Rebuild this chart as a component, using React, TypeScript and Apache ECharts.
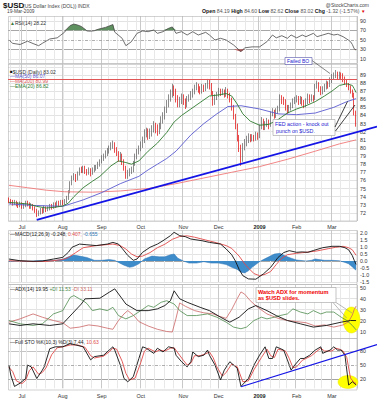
import React, { useEffect, useRef } from "react";
import * as echarts from "echarts";

const FONT = "'Liberation Sans', Arial, Helvetica, sans-serif";

// ---------- categories ----------
const FIRST_DAY = "2008-06-20";
const TRADING_DAY_COUNT = 188;
const MARKET_HOLIDAYS = ["2008-07-04", "2008-09-01", "2008-11-27", "2008-12-25", "2009-01-01", "2009-01-19", "2009-02-16"];
const MONTH_NAMES = ["Jan", "Feb", "Mar", "Apr", "May", "Jun", "Jul", "Aug", "Sep", "Oct", "Nov", "Dec"];

// ---------- tick labels ----------
const RSI_LABELS = [10, 30, 50, 70, 90];
const PRICE_LABEL_MIN = 72;
const PRICE_LABEL_MAX = 89;
const ADX_LABELS = [10, 20, 30, 40, 50];
const STO_LABELS = [20, 50, 80];

// ---------- price (daily OHLC) ----------
const opens = [
  73.6, 73.5, 73.4, 73.2, 73.3, 73.0, 72.9, 73.1, 72.8, 72.9,
  73.2, 73.1, 72.8, 72.9, 72.6, 72.3, 71.9, 72.0, 72.3, 72.2,
  72.6, 72.4, 72.5, 72.8, 72.7, 73.0, 72.9, 73.2, 73.1, 73.3,
  73.2, 73.4, 73.8, 74.6, 75.6, 76.3, 76.5, 76.2, 76.8, 77.3,
  77.2, 77.5, 77.1, 77.0, 77.3, 76.9, 77.3, 77.5, 77.6, 77.9,
  78.3, 78.7, 78.9, 79.3, 79.6, 79.9, 80.3, 80.5, 79.8, 79.4,
  78.7, 79.0, 78.3, 77.5, 76.6, 76.9, 77.1, 77.3, 78.0, 78.9,
  79.5, 79.9, 80.3, 80.9, 81.8, 82.0, 81.6, 81.8, 82.2, 82.7,
  82.4, 82.0, 82.6, 83.4, 83.8, 84.6, 85.4, 86.1, 86.6, 87.3,
  87.0, 86.1, 85.4, 85.8, 86.2, 85.8, 85.3, 86.0, 86.2, 86.6,
  86.9, 87.4, 87.7, 87.2, 87.0, 87.5, 87.3, 87.6, 88.1, 87.8,
  86.8, 85.6, 86.2, 86.6, 87.0, 86.8, 86.9, 86.6, 87.1, 86.5,
  86.0, 85.0, 83.9, 82.7, 81.2, 80.0, 78.7, 80.2, 80.6, 81.0,
  81.4, 81.1, 81.3, 81.2, 81.6, 81.4, 82.6, 83.4, 82.6, 82.9,
  83.2, 82.8, 84.2, 84.4, 84.0, 84.5, 84.7, 86.2, 85.9, 85.7,
  85.0, 84.6, 84.9, 85.2, 85.7, 85.9, 86.1, 85.7, 86.0, 85.6,
  85.3, 85.7, 86.3, 85.9, 86.2, 86.0, 87.6, 87.9, 87.3, 86.9,
  87.2, 87.5, 87.9, 87.7, 88.3, 88.7, 88.9, 89.0, 88.8, 89.0,
  88.9, 88.5, 88.1, 87.8, 87.4, 87.0, 86.5, 84.19,
];
const highs = [
  73.9, 73.7, 73.6, 73.6, 73.5, 73.3, 73.4, 73.3, 73.2, 73.5,
  73.5, 73.3, 73.2, 73.1, 72.8, 72.5, 72.3, 72.6, 72.6, 72.9,
  72.8, 72.8, 73.1, 73.1, 73.3, 73.3, 73.5, 73.5, 73.6, 73.6,
  73.7, 74.1, 74.8, 75.9, 76.6, 76.9, 76.8, 77.1, 77.6, 77.7,
  77.8, 77.8, 77.4, 77.6, 77.5, 77.6, 77.9, 77.9, 78.3, 78.6,
  79.1, 79.3, 79.7, 80.0, 80.3, 80.7, 80.9, 80.7, 80.1, 79.6,
  79.5, 79.3, 78.6, 77.8, 77.3, 77.5, 77.7, 78.4, 79.3, 79.9,
  80.3, 80.8, 81.4, 82.3, 82.5, 82.4, 82.4, 82.8, 83.3, 83.1,
  82.9, 83.1, 83.9, 84.4, 85.1, 85.9, 86.6, 87.2, 87.9, 87.7,
  87.3, 86.5, 86.3, 86.7, 86.6, 86.1, 86.4, 86.6, 87.0, 87.3,
  87.8, 88.1, 87.9, 87.6, 87.9, 87.8, 88.0, 88.5, 88.4, 88.0,
  87.0, 86.6, 86.9, 87.4, 87.3, 87.3, 87.2, 87.5, 87.3, 86.8,
  86.2, 85.3, 84.2, 83.0, 81.6, 80.4, 80.6, 81.1, 81.5, 81.8,
  81.7, 81.7, 81.6, 82.0, 81.9, 82.9, 83.8, 83.6, 83.3, 83.7,
  83.5, 84.5, 84.9, 84.7, 84.9, 85.2, 86.6, 86.5, 86.3, 86.0,
  85.3, 85.3, 85.6, 86.1, 86.3, 86.5, 86.4, 86.4, 86.3, 85.9,
  86.1, 86.7, 86.6, 86.6, 86.5, 87.9, 88.3, 88.1, 87.6, 87.6,
  87.9, 88.3, 88.2, 88.7, 89.1, 89.3, 89.6, 89.4, 89.4, 89.3,
  89.2, 88.8, 88.4, 88.0, 87.7, 87.2, 86.8, 84.6,
];
const lows = [
  73.2, 73.1, 72.9, 73.0, 72.8, 72.6, 72.7, 72.5, 72.5, 72.7,
  72.8, 72.5, 72.5, 72.3, 72.0, 71.5, 71.6, 71.8, 71.9, 72.0,
  72.1, 72.2, 72.3, 72.4, 72.5, 72.6, 72.7, 72.8, 72.9, 72.9,
  73.0, 73.2, 73.6, 74.4, 75.4, 76.0, 75.8, 76.0, 76.6, 76.9,
  76.9, 76.8, 76.6, 76.7, 76.5, 76.7, 77.0, 77.2, 77.4, 77.7,
  78.1, 78.4, 78.7, 79.0, 79.3, 79.7, 79.9, 79.4, 79.0, 78.3,
  78.3, 77.9, 77.2, 76.2, 76.2, 76.5, 76.8, 77.0, 77.8, 78.6,
  79.2, 79.6, 80.0, 80.6, 81.3, 81.0, 81.1, 81.4, 81.9, 81.8,
  81.5, 81.7, 82.3, 83.0, 83.5, 84.3, 85.0, 85.7, 86.2, 86.4,
  85.6, 85.0, 85.0, 85.4, 85.3, 84.8, 85.0, 85.7, 85.9, 86.2,
  86.6, 87.1, 86.8, 86.6, 86.7, 86.9, 87.0, 87.3, 87.2, 86.5,
  85.2, 85.3, 85.9, 86.3, 86.4, 86.5, 86.2, 86.3, 86.1, 85.6,
  84.6, 83.5, 82.3, 80.8, 79.5, 77.8, 78.3, 79.7, 80.2, 80.6,
  80.7, 80.8, 80.8, 80.9, 81.0, 81.2, 82.3, 82.2, 82.2, 82.6,
  82.3, 82.6, 83.9, 83.6, 83.7, 84.2, 84.5, 85.4, 85.3, 84.6,
  84.2, 84.3, 84.6, 84.9, 85.4, 85.6, 85.3, 85.4, 85.2, 84.9,
  85.0, 85.4, 85.5, 85.7, 85.7, 85.9, 87.3, 86.9, 86.5, 86.6,
  86.9, 87.2, 87.3, 87.5, 88.0, 88.4, 88.6, 88.4, 88.5, 88.5,
  88.1, 87.8, 87.5, 87.1, 86.7, 86.2, 84.0, 82.62,
];
const closes = [
  73.5, 73.4, 73.2, 73.3, 73.0, 72.9, 73.1, 72.8, 72.9, 73.2,
  73.1, 72.8, 72.9, 72.6, 72.3, 71.9, 72.0, 72.3, 72.2, 72.6,
  72.4, 72.5, 72.8, 72.7, 73.0, 72.9, 73.2, 73.1, 73.3, 73.2,
  73.4, 73.8, 74.6, 75.6, 76.3, 76.5, 76.2, 76.8, 77.3, 77.2,
  77.5, 77.1, 77.0, 77.3, 76.9, 77.3, 77.5, 77.6, 77.9, 78.3,
  78.7, 78.9, 79.3, 79.6, 79.9, 80.3, 80.5, 79.8, 79.4, 78.7,
  79.0, 78.3, 77.5, 76.6, 76.9, 77.1, 77.3, 78.0, 78.9, 79.5,
  79.9, 80.3, 80.9, 81.8, 82.0, 81.6, 81.8, 82.2, 82.7, 82.4,
  82.0, 82.6, 83.4, 83.8, 84.6, 85.4, 86.1, 86.6, 87.3, 87.0,
  86.1, 85.4, 85.8, 86.2, 85.8, 85.3, 86.0, 86.2, 86.6, 86.9,
  87.4, 87.7, 87.2, 87.0, 87.5, 87.3, 87.6, 88.1, 87.8, 86.8,
  85.6, 86.2, 86.6, 87.0, 86.8, 86.9, 86.6, 87.1, 86.5, 86.0,
  85.0, 83.9, 82.7, 81.2, 80.0, 78.7, 80.2, 80.6, 81.0, 81.4,
  81.1, 81.3, 81.2, 81.6, 81.4, 82.6, 83.4, 82.6, 82.9, 83.2,
  82.8, 84.2, 84.4, 84.0, 84.5, 84.7, 86.2, 85.9, 85.7, 85.0,
  84.6, 84.9, 85.2, 85.7, 85.9, 86.1, 85.7, 86.0, 85.6, 85.3,
  85.7, 86.3, 85.9, 86.2, 86.0, 87.6, 87.9, 87.3, 86.9, 87.2,
  87.5, 87.9, 87.7, 88.3, 88.7, 88.9, 89.0, 88.8, 89.0, 88.9,
  88.5, 88.1, 87.8, 87.4, 87.0, 86.5, 84.34, 83.02,
];

// ---------- overlays [dayIndex, value] ----------
const ma50 = [[0, 73.1], [15, 72.9], [29, 72.8], [40, 73.6], [50, 74.5], [60, 75.6], [70, 76.5], [75, 77.3], [80, 78.0], [85, 78.7], [90, 79.6], [98, 81.6], [105, 83.0], [112, 84.2], [118, 85.1], [125, 85.2], [135, 84.8], [145, 84.2], [155, 84.1], [165, 84.3], [175, 85.0], [182, 85.7], [187, 86.07]];
const ma200 = [[0, 75.4], [10, 75.1], [20, 74.8], [30, 74.6], [45, 74.55], [60, 74.7], [75, 75.0], [90, 75.6], [105, 76.3], [120, 77.0], [135, 77.7], [150, 78.6], [165, 79.6], [178, 80.5], [187, 80.99]];
const ema20 = [[0, 73.3], [5, 73.2], [10, 73.1], [15, 72.8], [20, 72.6], [25, 72.7], [29, 72.85], [32, 73.2], [35, 74.0], [40, 75.1], [45, 75.9], [49, 76.5], [55, 77.8], [59, 78.4], [63, 78.2], [66, 78.0], [70, 78.4], [75, 79.6], [80, 80.6], [85, 81.9], [89, 83.2], [93, 84.0], [98, 84.8], [103, 85.6], [108, 86.4], [112, 86.5], [117, 86.7], [120, 86.4], [123, 85.4], [126, 84.2], [130, 83.3], [135, 82.8], [140, 82.9], [145, 83.5], [150, 84.3], [155, 84.8], [160, 85.2], [165, 85.7], [170, 86.4], [174, 87.0], [178, 87.7], [182, 87.9], [185, 87.7], [186, 87.3], [187, 86.82]];
const resistanceLevel = 88.46;
const priceTrend = [[15, 71.14], [187, 81.93]];

// ---------- RSI(14) ----------
const rsi14 = [[0, 49.5], [2, 42.5], [6, 40], [10, 47], [13, 42], [16, 37.5], [18, 42.5], [22, 51.6], [26, 54], [28, 60], [30, 66], [31, 72], [33, 80], [35, 83], [37, 81], [39, 78], [41, 72], [42, 68.5], [44, 68], [46, 69], [48, 72], [50, 74], [52, 76], [54, 79], [56, 82], [57, 66], [61, 53], [63, 37.5], [66, 46], [69, 63.5], [72, 68.5], [75, 67], [78, 70.5], [80, 63.5], [83, 67], [86, 74], [88, 77], [90, 63.5], [93, 67], [96, 60], [99, 67], [102, 60], [106, 65.6], [108, 60], [111, 49.5], [114, 53], [117, 49.5], [121, 39], [125, 25], [127, 33], [131, 35], [135, 35], [139, 46], [142, 60], [144, 54], [147, 58.5], [150, 53], [152, 60], [155, 54], [158, 60], [160, 56.5], [164, 63.5], [166, 56.5], [169, 60], [172, 63.5], [175, 60], [177, 61.5], [180, 56.5], [183, 49], [184, 46], [185, 40], [186, 31], [187, 28.22]];

// ---------- MACD(12,26,9) ----------
const macdLine = [[0, 0.14], [6, 0.02], [13, -0.02], [18, 0], [24, 0.14], [29, 0.26], [32, 0.62], [34, 0.98], [38, 1.21], [42, 1.16], [47, 1.1], [53, 1.21], [56, 1.33], [59, 1.21], [61, 0.9], [64, 0.4], [67, 0.05], [69, 0.14], [72, 0.62], [76, 0.98], [80, 1.21], [83, 1.45], [87, 1.81], [89, 2.05], [92, 1.81], [95, 1.74], [98, 1.57], [104, 1.45], [108, 1.33], [114, 1.21], [117, 0.86], [120, 0.45], [122, 0.0], [124, -0.6], [126, -1.05], [129, -1.28], [133, -1.3], [137, -0.93], [141, -0.45], [145, 0.26], [148, 0.6], [151, 0.74], [155, 0.62], [158, 0.65], [161, 0.62], [164, 0.75], [169, 0.95], [174, 1.05], [178, 1.05], [181, 0.95], [183, 0.8], [185, 0.38], [186, 0.05], [187, -0.248]];
const macdSignal = [[0, 0.02], [6, 0.0], [13, -0.04], [20, -0.03], [29, 0.1], [32, 0.25], [36, 0.6], [40, 0.95], [47, 1.1], [56, 1.21], [60, 1.1], [63, 0.85], [66, 0.5], [69, 0.3], [72, 0.35], [76, 0.6], [80, 0.95], [84, 1.2], [88, 1.55], [92, 1.75], [96, 1.8], [100, 1.7], [106, 1.5], [112, 1.3], [117, 1.1], [120, 0.9], [124, 0.35], [127, -0.2], [129, -0.5], [132, -0.9], [135, -1.05], [138, -0.95], [141, -0.75], [144, -0.25], [147, 0.2], [150, 0.45], [155, 0.55], [160, 0.62], [166, 0.72], [172, 0.88], [176, 0.98], [180, 1.05], [183, 0.95], [185, 0.8], [187, 0.407]];
const macdHist = [[0, -0.03], [5, 0.01], [10, -0.03], [15, 0.02], [20, 0.03], [25, 0.05], [29, 0.12], [32, 0.3], [35, 0.42], [38, 0.35], [42, 0.25], [46, 0.05], [50, 0.05], [54, 0.1], [57, 0.05], [59, -0.1], [62, -0.3], [65, -0.45], [67, -0.4], [70, -0.2], [73, 0.15], [77, 0.35], [81, 0.3], [84, 0.3], [87, 0.45], [89, 0.5], [91, 0.2], [94, 0.0], [97, -0.15], [101, -0.15], [105, -0.05], [109, -0.15], [113, -0.15], [117, -0.25], [120, -0.45], [123, -0.6], [125, -0.8], [127, -0.85], [129, -0.7], [131, -0.45], [133, -0.25], [135, -0.05], [137, 0.1], [140, 0.3], [143, 0.5], [146, 0.55], [149, 0.35], [152, 0.2], [155, 0.07], [158, 0.03], [160, 0.0], [163, 0.05], [165, 0.15], [167, 0.1], [170, 0.05], [174, 0.05], [178, 0.02], [181, -0.1], [183, -0.2], [185, -0.42], [186, -0.55], [187, -0.655]];

// ---------- ADX(14) ----------
const adx14 = [[0, 17], [6, 15.5], [13, 17], [22, 15.5], [29, 17], [34, 26], [39, 35], [41, 39.7], [49, 40.3], [54, 45.7], [57, 48.8], [61, 39.7], [63, 35], [69, 29], [75, 29], [80, 30.6], [84, 33.6], [87, 38], [89, 47], [92, 39.7], [96, 36.6], [103, 32], [108, 29], [114, 23], [119, 18.5], [124, 23], [129, 30.6], [133, 33.6], [139, 29], [144, 24.5], [150, 20], [157, 17], [164, 14], [171, 15.5], [179, 18.5], [184, 20], [187, 19.95]];
const plusDI = [[0, 20], [6, 17], [13, 15.5], [18, 17], [24, 26], [29, 29], [33, 41], [35, 42.7], [38, 39.7], [40, 38], [42, 35.4], [45, 29], [49, 30.6], [53, 29], [56, 32], [59, 24.5], [63, 21.5], [67, 24.5], [71, 29], [75, 33.6], [78, 32], [82, 36.6], [85, 38], [89, 35], [92, 29], [96, 24.5], [101, 24.5], [107, 26], [112, 23], [117, 18.5], [121, 14], [125, 12.5], [128, 14], [132, 20], [136, 23], [139, 21.5], [143, 23], [146, 24.5], [150, 26], [153, 30.6], [157, 27.7], [161, 26], [164, 29], [168, 26], [171, 27.7], [175, 27.7], [179, 23], [182, 20], [185, 15.5], [187, 11.53]];
const minusDI = [[0, 18.5], [6, 21.5], [13, 26], [18, 23], [24, 20], [29, 18], [33, 13], [38, 14], [43, 16], [48, 15], [53, 13], [56, 12], [59, 20], [62, 26], [64, 29], [67, 25], [70, 19], [75, 15], [80, 12], [85, 10], [88, 9.5], [90, 22], [92, 36], [95, 33], [100, 29], [105, 27], [110, 26], [113, 24], [117, 22], [120, 30], [123, 40], [125, 46], [127, 44], [130, 38], [134, 32], [139, 26], [145, 22], [150, 20], [155, 19], [160, 18], [165, 15], [170, 16], [175, 14], [180, 16], [183, 19], [185, 25], [186, 30], [187, 33.11]];

// ---------- Full STO %K(10,3) %D(3) ----------
const stoK = [[0, 50], [1, 28.5], [3, 4], [6, 11], [9, 21], [10, 50], [12, 46], [15, 21], [18, 39], [19, 46], [22, 85], [25, 89], [29, 89], [33, 96], [36, 93], [40, 89], [44, 61], [46, 68], [51, 71], [54, 82], [56, 89], [57, 82], [60, 50], [62, 21], [64, 14], [67, 25], [70, 64], [72, 89], [74, 86], [78, 75], [80, 86], [83, 78], [86, 89], [89, 86], [90, 71], [93, 57], [96, 46], [98, 57], [99, 78], [102, 68], [105, 71], [107, 82], [108, 71], [111, 50], [114, 18], [116, 39], [119, 57], [123, 43], [125, 4], [129, 21], [132, 50], [135, 71], [138, 89], [140, 64], [142, 64], [144, 89], [148, 82], [150, 61], [152, 39], [154, 50], [157, 64], [159, 64], [162, 71], [165, 82], [168, 89], [169, 75], [173, 82], [175, 89], [177, 82], [179, 82], [181, 71], [183, 7], [185, 14], [186, 10.7], [187, 7.44]];
const stoD = [[0, 45], [2, 36], [4, 16], [7, 10], [9, 17], [11, 38], [13, 46], [16, 30], [18, 34], [20, 44], [23, 72], [26, 87], [30, 90], [33, 93], [37, 93], [41, 88], [44, 70], [46, 65], [51, 69], [54, 78], [56, 86], [58, 84], [61, 58], [63, 32], [65, 18], [68, 22], [71, 55], [73, 80], [75, 86], [79, 78], [81, 82], [84, 80], [87, 86], [89, 87], [91, 76], [94, 60], [96, 50], [98, 54], [100, 70], [103, 70], [106, 74], [108, 78], [110, 66], [112, 46], [115, 26], [117, 34], [120, 52], [123, 46], [126, 14], [129, 16], [132, 40], [136, 66], [139, 84], [141, 70], [143, 66], [145, 84], [149, 80], [151, 64], [153, 44], [155, 46], [158, 60], [160, 64], [163, 70], [166, 80], [168, 86], [170, 80], [174, 80], [176, 86], [178, 84], [180, 80], [182, 66], [184, 22], [186, 12], [187, 10.63]];
const stoTrend = [[125, 3.4], [187, 80]];

// ---------- helpers ----------
function buildTradingDays(): string[] {
  const parts = FIRST_DAY.split("-").map(Number);
  const cur = new Date(Date.UTC(parts[0], parts[1] - 1, parts[2]));
  const out: string[] = [];
  while (out.length < TRADING_DAY_COUNT) {
    const wd = cur.getUTCDay();
    const key = cur.toISOString().slice(0, 10);
    if (wd !== 0 && wd !== 6 && MARKET_HOLIDAYS.indexOf(key) < 0) out.push(key);
    cur.setUTCDate(cur.getUTCDate() + 1);
  }
  return out;
}

const N0 = "rgba(0,0,0,0)";
const LIGHT = "#e3e3e3";
const MID = "#a6a6a6";
const AXIS_FONT = 5.3;

function buildOption() {
  const cats = buildTradingDays();
  const monthStart = cats.map((d, i) => i > 0 && d.slice(5, 7) !== cats[i - 1].slice(5, 7));
  const weekId = (d: string) => Math.floor((Date.parse(d) / 86400000 + 3) / 7);
  const weekStart = cats.map((d, i) => i > 0 && weekId(d) !== weekId(cats[i - 1]));

  const grids = [
    { top: 16, height: 47.5 },
    { top: 64, height: 157 },
    { top: 230.5, height: 51.5 },
    { top: 285, height: 57.5 },
    { top: 341.7, height: 46.6 },
  ].map((g) => ({ left: 8, right: 20, top: g.top, height: g.height, containLabel: false, outerBoundsMode: "none", show: false }));

  const xAxes: any[] = [];
  for (let g = 0; g < 5; g++) {
    const showLabels = g === 1 || g === 4;
    xAxes.push({
      type: "category",
      gridIndex: g,
      data: cats,
      boundaryGap: true,
      position: "bottom",
      axisLine: { show: false },
      axisTick: { show: false },
      axisLabel: {
        show: showLabels,
        interval: (i: number) => monthStart[i],
        formatter: (v: string) => {
          const m = Number(v.slice(5, 7)) - 1;
          return m === 0 ? "{b|" + v.slice(0, 4) + "}" : MONTH_NAMES[m];
        },
        rich: { b: { fontWeight: "bold", fontSize: 5.5, fontFamily: FONT, color: "#222" } },
        fontSize: 5.5,
        fontFamily: FONT,
        color: "#333",
        margin: g === 1 ? 3 : 5,
      },
      splitLine: { show: true, interval: (i: number) => weekStart[i], lineStyle: { color: "#e8e8e8", width: 1 } },
    });
    xAxes.push({
      type: "category",
      gridIndex: g,
      data: cats,
      boundaryGap: true,
      position: "top",
      axisLine: { show: false },
      axisTick: { show: false },
      axisLabel: { show: false },
      splitLine: { show: true, interval: (i: number) => monthStart[i], lineStyle: { color: "#c9c9c9", width: 1 } },
    });
  }

  const yAxis = (grid: number, min: number, max: number, interval: number, formatter: any, colors: string[]) => ({
    type: "value",
    gridIndex: grid,
    position: "right",
    min,
    max,
    interval,
    axisLine: { show: false },
    axisTick: { show: false },
    axisLabel: { show: true, showMinLabel: true, showMaxLabel: true, formatter, fontSize: AXIS_FONT, fontFamily: FONT, color: "#333", margin: 3 },
    splitLine: { show: true, lineStyle: { color: colors, width: 1 } },
  });

  const isInt = (v: number) => Math.abs(v - Math.round(v)) < 1e-6;
  const yAxes = [
    yAxis(0, 0, 100, 10, (v: number) => (isInt(v) && RSI_LABELS.indexOf(Math.round(v)) >= 0 ? String(Math.round(v)) : ""),
      [N0, LIGHT, N0, MID, N0, N0, N0, MID, N0, LIGHT, N0]),
    yAxis(1, 71, 90.34, 1, (v: number) => (isInt(v) && v >= PRICE_LABEL_MIN && v <= PRICE_LABEL_MAX ? String(Math.round(v)) : ""),
      [LIGHT]),
    yAxis(2, -1.5, 2.179, 0.5, (v: number) => (v > 2.01 ? "" : Math.abs(v) < 1e-6 ? "0.0" : v.toFixed(1)),
      [LIGHT, LIGHT, LIGHT, MID, LIGHT, LIGHT, LIGHT, LIGHT, N0]),
    yAxis(3, 0, 52.3, 10, (v: number) => (isInt(v) && ADX_LABELS.indexOf(Math.round(v)) >= 0 ? String(Math.round(v)) : ""),
      [N0, LIGHT, LIGHT, LIGHT, LIGHT, LIGHT, N0]),
    yAxis(4, 0, 100, 10, (v: number) => (isInt(v) && STO_LABELS.indexOf(Math.round(v)) >= 0 ? String(Math.round(v)) : ""),
      [N0, N0, MID, N0, N0, N0, N0, N0, "#c4c4c4", N0, N0]),
  ];

  const line = (xi: number, yi: number, data: any, color: string, width: number, extra: any = {}) => ({
    type: "line",
    xAxisIndex: xi,
    yAxisIndex: yi,
    data,
    symbol: "none",
    silent: true,
    z: 3,
    lineStyle: { color, width },
    ...extra,
  });

  const dashDot = (value: number) => ({
    silent: true,
    symbol: ["none", "none"],
    label: { show: false },
    lineStyle: { color: "#9a9a9a", width: 0.8, type: [3, 1.5, 1, 1.5] },
    data: [{ yAxis: value }],
  });

  const rsiHiBase = rsi14.map(([i]) => [i, 70]);
  const rsiHiFill = rsi14.map(([i, v]) => [i, Math.max(v - 70, 0)]);
  const rsiLoBase = rsi14.map(([i, v]) => [i, Math.min(v, 30)]);
  const rsiLoFill = rsi14.map(([i, v]) => [i, 30 - Math.min(v, 30)]);

  const candles = opens.map((o, i) => [o, closes[i], lows[i], highs[i]]);

  const series: any[] = [
    // RSI
    line(0, 0, rsiHiBase, N0, 0, { stack: "rsiHi", z: 2, lineStyle: { opacity: 0 } }),
    line(0, 0, rsiHiFill, N0, 0, { stack: "rsiHi", z: 2, lineStyle: { opacity: 0 }, areaStyle: { color: "#5f905f", opacity: 1 } }),
    line(0, 0, rsiLoBase, N0, 0, { stack: "rsiLo", z: 2, lineStyle: { opacity: 0 } }),
    line(0, 0, rsiLoFill, N0, 0, { stack: "rsiLo", z: 2, lineStyle: { opacity: 0 }, areaStyle: { color: "#b85a5a", opacity: 1 } }),
    line(0, 0, rsi14, "#4a4a4a", 0.8, { markLine: dashDot(50) }),
    // price
    {
      type: "candlestick",
      xAxisIndex: 2,
      yAxisIndex: 1,
      data: candles,
      barWidth: 1.2,
      silent: true,
      z: 2,
      itemStyle: { color: "#ffffff", color0: "#e00000", borderColor: "#5a5a5a", borderColor0: "#e00000", borderWidth: 0.7 },
      markLine: {
        silent: true,
        symbol: ["none", "none"],
        label: { show: false },
        lineStyle: { color: "#e05555", width: 1.2, type: "solid" },
        data: [{ yAxis: resistanceLevel }],
      },
    },
    line(2, 1, ma200, "#f07878", 0.9),
    line(2, 1, ma50, "#5a5ad0", 0.9),
    line(2, 1, ema20, "#2f7a2f", 0.9),
    // MACD
    line(4, 2, macdHist, "#2c74b4", 0.5, { z: 2, areaStyle: { color: "#3f8ccb", opacity: 1 } }),
    line(4, 2, macdSignal, "#e24a4a", 0.9),
    line(4, 2, macdLine, "#111111", 0.9),
    // ADX
    line(6, 3, minusDI, "#cc6464", 0.8),
    line(6, 3, plusDI, "#4e8c4e", 0.8),
    line(6, 3, adx14, "#111111", 0.9),
    // STO
    line(8, 4, stoD, "#e24a4a", 0.9, { markLine: dashDot(50) }),
    line(8, 4, stoK, "#111111", 0.9),
  ];

  return {
    animation: false,
    backgroundColor: "#ffffff",
    textStyle: { fontFamily: FONT },
    grid: grids,
    xAxis: xAxes,
    yAxis: yAxes,
    series,
  };
}

function txt(id: string, x: number, y: number, text: string, o: any = {}) {
  const align = o.align || "left";
  return {
    type: "text",
    id,
    z: o.z == null ? 40 : o.z,
    silent: true,
    style: {
      x,
      y,
      text,
      fill: o.fill || "#222",
      fontSize: o.size || 5,
      fontFamily: FONT,
      fontWeight: o.weight || "normal",
      align,
      textAlign: align,
      verticalAlign: "middle",
      textVerticalAlign: "middle",
      rich: o.rich,
    },
  };
}

function seg(id: string, x1: number, y1: number, x2: number, y2: number, stroke: string, lineWidth: number, z = 40) {
  return { type: "line", id, z, silent: true, shape: { x1, y1, x2, y2 }, style: { stroke, lineWidth } };
}

function box(id: string, x: number, y: number, width: number, height: number, stroke: string, fill: string, z = 39) {
  return { type: "rect", id, z, silent: true, shape: { x, y, width, height }, style: { stroke, fill, lineWidth: 0.6 } };
}

function buildGraphics(chart: any) {
  const px = (xi: number, yi: number, pt: number[]) => chart.convertToPixel({ xAxisIndex: xi, yAxisIndex: yi }, pt) as number[];
  const extendTo = (a: number[], b: number[], X: number) => [X, a[1] + ((b[1] - a[1]) * (X - a[0])) / (b[0] - a[0])];
  const pa = px(2, 1, priceTrend[0]);
  const pb = px(2, 1, priceTrend[1]);
  const pe = extendTo(pa, pb, 377);
  const sa = px(8, 4, stoTrend[0]);
  const sb = px(8, 4, stoTrend[1]);
  const se = extendTo(sa, sb, 377);

  const rs = (fill: string, weight = "normal", size = 5) => ({ fill, color: fill, fontSize: size, fontFamily: FONT, fontWeight: weight });

  const els: any[] = [
    // panel borders
    box("b0", 8.5, 16.5, 348.5, 47, "#b4b4b4", "none", 1),
    box("b1", 8.5, 64, 348.5, 157, "#b4b4b4", "none", 1),
    box("b2", 8.5, 230.5, 348.5, 54, "#b4b4b4", "none", 1),
    box("b3", 8.5, 284.5, 348.5, 54, "#b4b4b4", "none", 1),
    box("b4", 8.5, 338.5, 348.5, 51.5, "#b4b4b4", "none", 1),
    // yellow highlights
    { type: "ellipse", id: "y1", z: 1, silent: true, shape: { cx: 351.5, cy: 320, rx: 8.5, ry: 13 }, style: { fill: "#ffff00", stroke: "#e6e600", lineWidth: 0.5 } },
    { type: "ellipse", id: "y2", z: 1, silent: true, shape: { cx: 348, cy: 382, rx: 10, ry: 6.5 }, style: { fill: "#ffff00", stroke: "#e6e600", lineWidth: 0.5 } },
    // trend lines
    seg("t1", pa[0], pa[1], pe[0], pe[1], "#1414e6", 1.7, 30),
    seg("t2", sa[0], sa[1], se[0], se[1], "#1414e6", 1.2, 30),
    // title
    txt("h1", 3, 5, "$USD", { size: 8, weight: "bold", fill: "#111" }),
    txt("h2", 23, 5.5, "(US Dollar Index (DOL)) INDX", { size: 5, fill: "#444" }),
    txt("h3", 369, 5, "@StockCharts.com", { size: 5, fill: "#444", align: "right" }),
    txt("h4", 7, 11, "19-Mar-2009", { size: 4.8, fill: "#444" }),
    txt("h5", 359.5, 11, "{l|Open} {v|84.19} {l|High} {v|84.60} {l|Low} {v|82.62} {l|Close} {v|83.02} {l|Chg} {v|-1.32 (-1.57%)}", {
      align: "right",
      size: 5.2,
      rich: { l: rs("#111", "bold", 5.2), v: rs("#555", "normal", 5.2) },
    }),
    txt("h6", 361, 11, "▼", { size: 4.5, fill: "#e00000" }),
    // panel legends
    txt("l0", 10, 22.5, "{i|▲}{t|RSI(14) 28.22}", { rich: { i: rs("#3c7a3c"), t: rs("#333") } }),
    txt("l1", 10, 71.6, "{i|■}{t|$USD (Daily) 83.02}", { rich: { i: rs("#111", "normal", 4.5), t: rs("#333") } }),
    txt("l2", 10, 76.4, "—MA(50) 86.07", { fill: "#5a5ad0" }),
    txt("l3", 10, 81.4, "—MA(200) 80.99", { fill: "#e05555" }),
    txt("l4", 10, 86.4, "—EMA(20) 86.82", { fill: "#2f7a2f" }),
    txt("l5", 10, 234, "{k|—MACD(12,26,9) -0.248,} {r|0.407,} {b|-0.655}", { rich: { k: rs("#222"), r: rs("#e24a4a"), b: rs("#2c74b4") } }),
    txt("l6", 10, 288.5, "{k|—ADX(14) 19.95} {g|+DI 11.53} {r|-DI 33.11}", { rich: { k: rs("#222"), g: rs("#4e8c4e"), r: rs("#cc6464") } }),
    txt("l7", 10, 342.3, "{k|—Full STO %K(10,3) %D(3) 7.44,} {r|10.63}", { rich: { k: rs("#222"), r: rs("#e24a4a") } }),
    // annotation: Failed BO
    box("a1", 285, 57.5, 27, 7, "#5050a8", "#ffffff"),
    txt("a1t", 287, 61, "Failed BO", { size: 5, fill: "#2424d0", z: 41 }),
    seg("a1l", 312, 60.5, 330, 73.5, "#333333", 0.6),
    // annotation: FED
    box("a2", 273, 119.5, 62, 16, "#a0a0a0", "#ffffff"),
    txt("a2t1", 275, 124, "FED action - knock out", { size: 5.3, fill: "#2424d0", z: 41 }),
    txt("a2t2", 276, 131.3, "punch on $USD.", { size: 5.3, fill: "#2424d0", z: 41 }),
    seg("a2l1", 335, 127, 347.5, 101.5, "#111111", 0.8),
    seg("a2l2", 335.5, 131, 355, 105, "#111111", 0.8),
    // annotation: ADX
    box("a3", 256, 287.5, 80, 15, "#a0a0a0", "#ffffff"),
    txt("a3t1", 258, 291.6, "Watch ADX for momentum", { size: 5.6, weight: "bold", fill: "#ee0000", z: 41 }),
    txt("a3t2", 258, 298.4, "as $USD slides.", { size: 5.6, weight: "bold", fill: "#ee0000", z: 41 }),
    seg("a3l1", 333, 302.5, 346.5, 318, "#8a8a8a", 0.6),
    seg("a3l2", 336, 302.5, 352, 313, "#8a8a8a", 0.6),
  ];
  return els;
}

export default function App() {
  const ref = useRef<HTMLDivElement>(null);
  useEffect(() => {
    const el = ref.current;
    if (!el) return;
    const chart = echarts.init(el, null, { renderer: "svg" });
    chart.setOption(buildOption() as any);
    chart.setOption({ graphic: { elements: buildGraphics(chart) } } as any);
    return () => chart.dispose();
  }, []);
  return <div ref={ref} style={{ position: "absolute", left: 0, top: 0, width: 377, height: 400, background: "#fff" }} />;
}
